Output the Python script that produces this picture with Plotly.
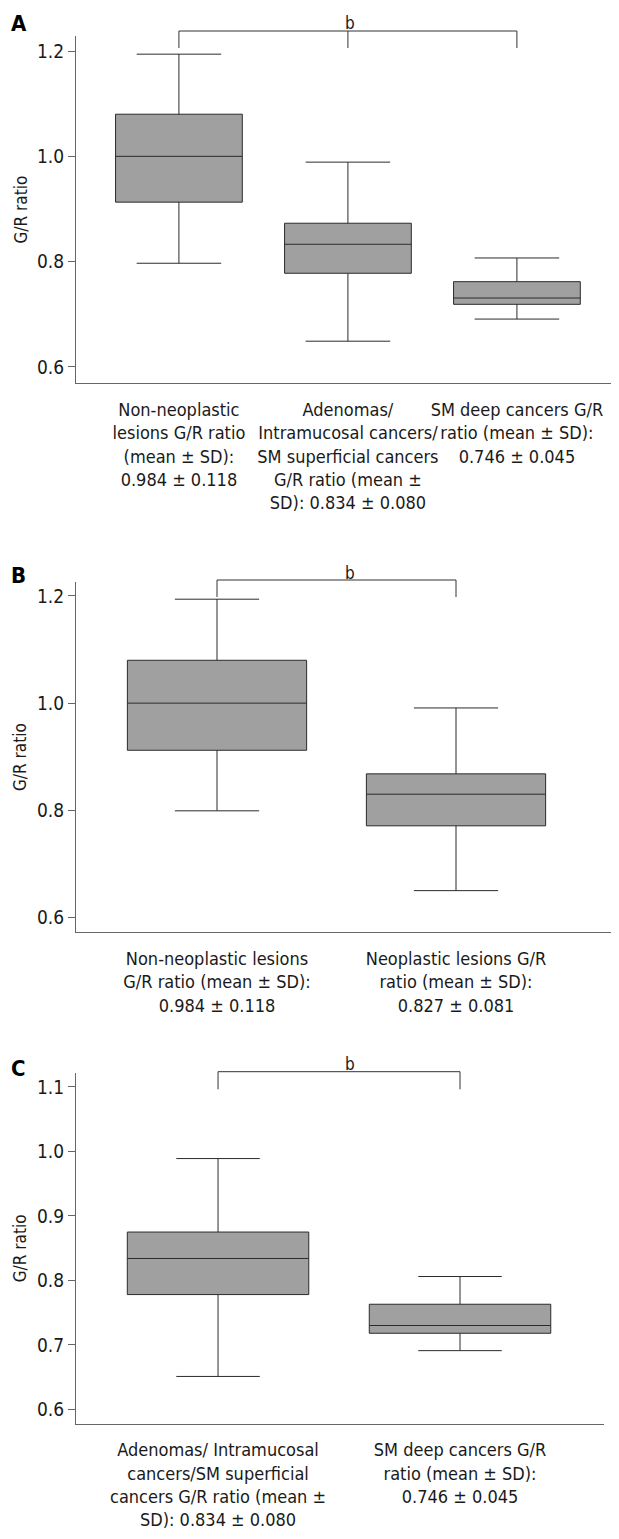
import plotly.graph_objects as go

# page body has an 8px margin, so the figure is drawn 8px in from the window edge
OFF = 8
WIN_W, WIN_H = 619, 1539
W, H = WIN_W - OFF, WIN_H - OFF
FONT = "Tahoma, 'DejaVu Sans Condensed', 'DejaVu Sans', sans-serif"

# ---------------- data ----------------
a_categories = [
    "Non-neoplastic<br>lesions G/R ratio<br>(mean ± SD):<br>0.984 ± 0.118",
    "Adenomas/<br>Intramucosal cancers/<br>SM superficial cancers<br>G/R ratio (mean ±<br>SD): 0.834 ± 0.080",
    "SM deep cancers G/R<br>ratio (mean ± SD):<br>0.746 ± 0.045",
]
a_lower = [0.797, 0.649, 0.691]
a_q1 = [0.913, 0.778, 0.719]
a_median = [1.000, 0.833, 0.731]
a_q3 = [1.080, 0.873, 0.762]
a_upper = [1.194, 0.989, 0.807]
a_yticks = [0.6, 0.8, 1.0, 1.2]

b_categories = [
    "Non-neoplastic lesions<br>G/R ratio (mean ± SD):<br>0.984 ± 0.118",
    "Neoplastic lesions G/R<br>ratio (mean ± SD):<br>0.827 ± 0.081",
]
b_lower = [0.799, 0.650]
b_q1 = [0.912, 0.771]
b_median = [1.000, 0.830]
b_q3 = [1.080, 0.868]
b_upper = [1.194, 0.991]
b_yticks = [0.6, 0.8, 1.0, 1.2]

c_categories = [
    "Adenomas/ Intramucosal<br>cancers/SM superficial<br>cancers G/R ratio (mean ±<br>SD): 0.834 ± 0.080",
    "SM deep cancers G/R<br>ratio (mean ± SD):<br>0.746 ± 0.045",
]
c_lower = [0.651, 0.691]
c_q1 = [0.778, 0.718]
c_median = [0.834, 0.730]
c_q3 = [0.875, 0.763]
c_upper = [0.989, 0.806]
c_yticks = [0.6, 0.7, 0.8, 0.9, 1.0, 1.1]

sig_label = "b"
y_title = "G/R ratio"
panel_letters = ["A", "B", "C"]


def fx(px):
    return (px - OFF) / W


def fy(py):
    return 1 - (py - OFF) / H


BOX_FILL = "#a0a0a0"
BOX_LINE = "#2b2b2b"
AX_COL = "#666666"

fig = go.Figure()

panels = [
    dict(cats=a_categories, lo=a_lower, q1=a_q1, med=a_median, q3=a_q3, up=a_upper,
         ticks=a_yticks, xa="x", ya="y", whisk=0.667),
    dict(cats=b_categories, lo=b_lower, q1=b_q1, med=b_median, q3=b_q3, up=b_upper,
         ticks=b_yticks, xa="x2", ya="y2", whisk=0.47),
    dict(cats=c_categories, lo=c_lower, q1=c_q1, med=c_median, q3=c_q3, up=c_upper,
         ticks=c_yticks, xa="x3", ya="y3", whisk=0.46),
]

for p in panels:
    fig.add_trace(go.Box(
        x=p["cats"], q1=p["q1"], median=p["med"], q3=p["q3"],
        lowerfence=p["lo"], upperfence=p["up"],
        boxpoints=False, width=0.75, whiskerwidth=p["whisk"],
        fillcolor=BOX_FILL, line=dict(color=BOX_LINE, width=1),
        xaxis=p["xa"], yaxis=p["ya"], showlegend=False, hoverinfo="skip",
    ))

# geometry (window pixels) of each panel
geo = [
    dict(left=76, right=619, top=36, bottom=383, xr=[-0.609, 2.604], yr=[0.5696, 1.2285],
         br_top=31, br_leg=48, b_y=23, letter_y=24, mid_tick=True),
    dict(left=76, right=619, top=582, bottom=932, xr=[-0.590, 1.682], yr=[0.5728, 1.2261],
         br_top=580, br_leg=597, b_y=572.5, letter_y=575.5, mid_tick=False),
    dict(left=76, right=604, top=1073, bottom=1423.5, xr=[-0.587, 1.595], yr=[0.578, 1.1217],
         br_top=1071.7, br_leg=1089.3, b_y=1063.6, letter_y=1068, mid_tick=False),
]

layout = dict(
    width=W, height=H, margin=dict(l=0, r=0, t=0, b=0),
    plot_bgcolor="white", paper_bgcolor="white",
    font=dict(family=FONT, size=18, color="#1a1a1a"),
    showlegend=False,
)

shapes = []
annotations = []
for i, (p, g) in enumerate(zip(panels, geo)):
    sfx = "" if i == 0 else str(i + 1)
    layout["xaxis" + sfx] = dict(
        domain=[fx(g["left"]), min(1.0, fx(g["right"]))], anchor="y" + sfx, range=g["xr"],
        type="category", showline=True, linecolor=AX_COL, linewidth=1.2,
        ticks="", showgrid=False, zeroline=False, fixedrange=True, tickangle=0,
        tickfont=dict(size=18, color="#1a1a1a"), ticklabelstandoff=10,
    )
    layout["yaxis" + sfx] = dict(
        domain=[fy(g["bottom"]), fy(g["top"])], anchor="x" + sfx, range=g["yr"],
        tickvals=p["ticks"], tickformat=".1f",
        ticks="outside", ticklen=7, tickcolor=AX_COL, tickwidth=1,
        showline=True, linecolor=AX_COL, linewidth=1.2,
        showgrid=False, zeroline=False, fixedrange=True,
        tickfont=dict(size=19, color="#1a1a1a"),
    )
    xref = "x" + sfx
    last = len(p["cats"]) - 1
    bt, bl = fy(g["br_top"]), fy(g["br_leg"])
    line = dict(color="#333333", width=1)
    shapes += [
        dict(type="line", xref=xref, yref="paper", x0=0, x1=last, y0=bt, y1=bt, line=line),
        dict(type="line", xref=xref, yref="paper", x0=0, x1=0, y0=bt, y1=bl, line=line),
        dict(type="line", xref=xref, yref="paper", x0=last, x1=last, y0=bt, y1=bl, line=line),
    ]
    if g["mid_tick"]:
        shapes.append(dict(type="line", xref=xref, yref="paper", x0=1, x1=1, y0=bt, y1=bl, line=line))
    annotations.append(dict(text=sig_label, xref="paper", yref="paper", x=fx(350), y=fy(g["b_y"]),
                            xanchor="center", yanchor="middle", showarrow=False,
                            font=dict(size=17, color="#1a1a1a")))
    annotations.append(dict(text="<b>%s</b>" % panel_letters[i], xref="paper", yref="paper",
                            x=fx(9), y=fy(g["letter_y"]), xanchor="left", yanchor="middle",
                            showarrow=False, font=dict(size=22, color="#000000")))
    annotations.append(dict(text=y_title, xref="paper", yref="y" + sfx + " domain",
                            x=fx(20), y=0.5, xanchor="center", yanchor="middle",
                            textangle=-90, showarrow=False, font=dict(size=17, color="#1a1a1a")))

layout["shapes"] = shapes
layout["annotations"] = annotations
fig.update_layout(**layout)

fig.write_html("out.html")
